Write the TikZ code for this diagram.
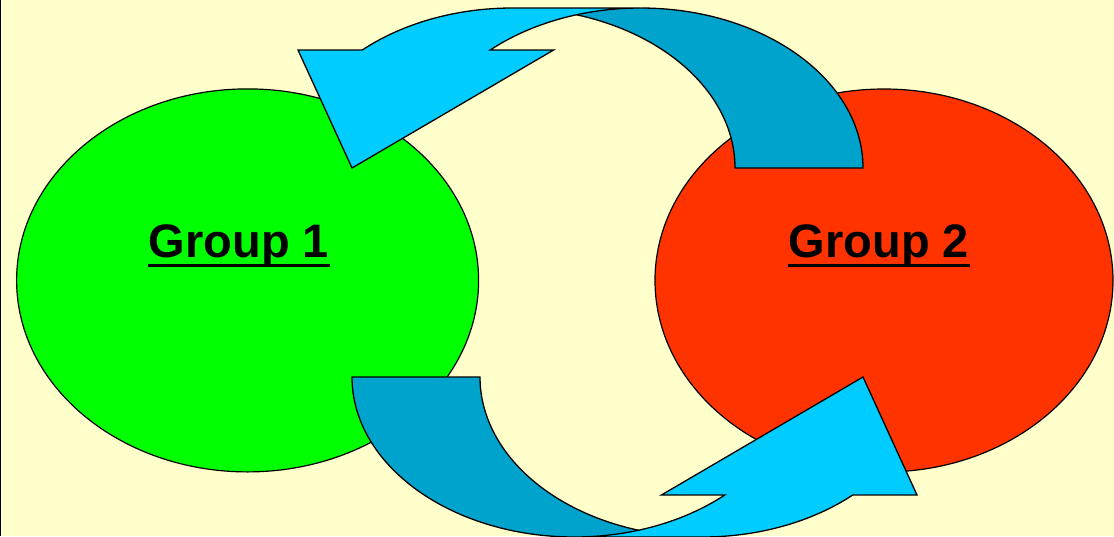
\documentclass[tikz,border=0pt]{standalone}
\usepackage{fontspec}
\setmainfont{Liberation Sans}
\usetikzlibrary{shapes.geometric,calc}
\definecolor{bgyellow}{HTML}{FFFFCC}
\definecolor{grp1}{HTML}{00FF00}
\definecolor{grp2}{HTML}{FF3300}
\definecolor{arrlight}{HTML}{00CCFF}
\definecolor{arrdark}{HTML}{00A3CC}
\tikzset{
  groupshape/.style={ellipse, draw=black, line width=1.2pt, inner sep=0pt},
  grouplabel/.style={font=\fontsize{47}{47}\selectfont\bfseries, inner sep=0pt, anchor=base},
  underlinerule/.style={draw=black, line width=2.6pt},
  arrowpart/.style={draw=black, line width=1.3pt, line join=miter},
}
\newcommand{\curvedarrow}{%
  % light band with arrowhead
  \fill[arrlight] ($(512.5,168)+(-132.5:222.5 and 160)$)
    arc[start angle=-132.5, end angle=-90, x radius=222.5, y radius=160]
    -- (640.5,8)
    arc[start angle=-90, end angle=-132.5, x radius=222.5, y radius=160]
    -- (553.6,50) -- (352,168) -- (298,50) -- cycle;
  % dark tail band
  \fill[arrdark] ($(512.5,168)+(-73.3:222.5 and 160)$)
    arc[start angle=-73.3, end angle=0, x radius=222.5, y radius=160]
    -- (863,168)
    arc[start angle=0, end angle=-106.7, x radius=222.5, y radius=160]
    -- cycle;
  % outlines
  \draw[arrowpart] ($(512.5,168)+(-132.5:222.5 and 160)$)
    arc[start angle=-132.5, end angle=-90, x radius=222.5, y radius=160]
    -- (640.5,8)
    arc[start angle=-90, end angle=-132.5, x radius=222.5, y radius=160]
    -- (553.6,50) -- (352,168) -- (298,50) -- cycle;
  \draw[arrowpart] ($(512.5,168)+(-73.3:222.5 and 160)$)
    arc[start angle=-73.3, end angle=0, x radius=222.5, y radius=160]
    -- (863,168)
    arc[start angle=0, end angle=-90, x radius=222.5, y radius=160];
}
\begin{document}
\begin{tikzpicture}[x=1pt,y=-1pt]
  \fill[bgyellow] (0,0) rectangle (1114,536);
  \useasboundingbox (0,0) rectangle (1114,536);
  \draw[black, line width=1.5pt] (0.5,0) -- (0.5,536);
  % groups
  \node[groupshape, fill=grp1, minimum width=462pt, minimum height=383pt] (g1) at (247.6,280.4) {};
  \node[groupshape, fill=grp2, minimum width=458pt, minimum height=383pt] (g2) at (884,280.5) {};
  \node[grouplabel] (t1) at (239,257) {Group 1};
  \node[grouplabel] (t2) at (879,257) {Group 2};
  \draw[underlinerule] ($(t1.base west)+(-1,8.5)$) -- ($(t1.base east)+(1,8.5)$);
  \draw[underlinerule] ($(t2.base west)+(-1,8.5)$) -- ($(t2.base east)+(1,8.5)$);
  % top curved arrow
  \begin{scope}
    \curvedarrow
  \end{scope}
  % bottom curved arrow (rotated copy)
  \begin{scope}[rotate around={180:(607.5,272.5)}]
    \curvedarrow
  \end{scope}
\end{tikzpicture}
\end{document}
